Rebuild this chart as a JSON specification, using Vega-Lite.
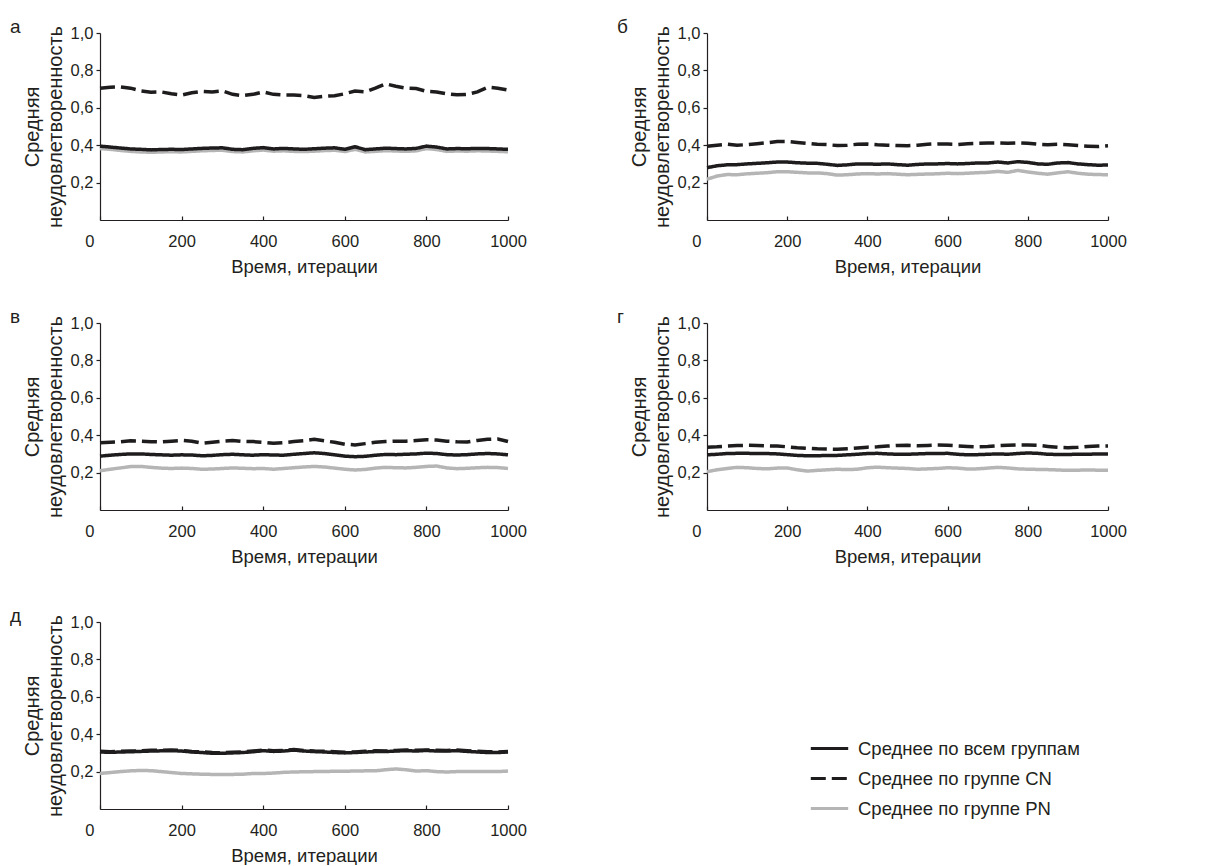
{
  "$schema": "https://vega.github.io/schema/vega-lite/v6.json",
  "background": "white",
  "padding": {"left": 10, "top": 18, "right": 0, "bottom": 0},
  "config": {
    "font": "Liberation Sans",
    "view": {"stroke": null},
    "axis": {
      "grid": false,
      "labelFont": "Liberation Sans",
      "labelFontSize": 16.5,
      "labelColor": "#231f20",
      "titleFont": "Liberation Sans",
      "titleFontSize": 18.5,
      "titleFontWeight": "normal",
      "titleColor": "#231f20",
      "domainColor": "#231f20",
      "domainWidth": 1.2,
      "tickColor": "#231f20",
      "tickWidth": 1.2
    },
    "title": {"font": "Liberation Sans", "fontSize": 19, "fontWeight": "normal", "color": "#231f20", "anchor": "start", "frame": "bounds", "offset": -12, "dx": -12},
    "legend": {
      "orient": "none",
      "legendX": 709,
      "legendY": 695,
      "title": null,
      "symbolType": "stroke",
      "symbolSize": 1400,
      "symbolStrokeWidth": 3,
      "labelFont": "Liberation Sans",
      "labelFontSize": 18.5,
      "labelColor": "#231f20",
      "labelOffset": 8,
      "labelLimit": 0,
      "rowPadding": -11
    }
  },
  "data": {"values": [
    {"p":"а","x":0,"all":0.395,"cn":0.705,"pn":0.382},
    {"p":"а","x":25,"all":0.39,"cn":0.71,"pn":0.378},
    {"p":"а","x":50,"all":0.385,"cn":0.712,"pn":0.372},
    {"p":"а","x":75,"all":0.38,"cn":0.705,"pn":0.367},
    {"p":"а","x":100,"all":0.378,"cn":0.69,"pn":0.364},
    {"p":"а","x":125,"all":0.375,"cn":0.683,"pn":0.362},
    {"p":"а","x":150,"all":0.377,"cn":0.685,"pn":0.364},
    {"p":"а","x":175,"all":0.378,"cn":0.675,"pn":0.365},
    {"p":"а","x":200,"all":0.377,"cn":0.668,"pn":0.364},
    {"p":"а","x":225,"all":0.38,"cn":0.68,"pn":0.367},
    {"p":"а","x":250,"all":0.383,"cn":0.688,"pn":0.37},
    {"p":"а","x":275,"all":0.385,"cn":0.685,"pn":0.372},
    {"p":"а","x":300,"all":0.386,"cn":0.69,"pn":0.373},
    {"p":"а","x":325,"all":0.378,"cn":0.672,"pn":0.366},
    {"p":"а","x":350,"all":0.376,"cn":0.665,"pn":0.364},
    {"p":"а","x":375,"all":0.383,"cn":0.672,"pn":0.37},
    {"p":"а","x":400,"all":0.387,"cn":0.685,"pn":0.374},
    {"p":"а","x":425,"all":0.38,"cn":0.672,"pn":0.368},
    {"p":"а","x":450,"all":0.383,"cn":0.668,"pn":0.37},
    {"p":"а","x":475,"all":0.38,"cn":0.668,"pn":0.367},
    {"p":"а","x":500,"all":0.378,"cn":0.665,"pn":0.366},
    {"p":"а","x":525,"all":0.381,"cn":0.655,"pn":0.368},
    {"p":"а","x":550,"all":0.384,"cn":0.662,"pn":0.371},
    {"p":"а","x":575,"all":0.386,"cn":0.665,"pn":0.373},
    {"p":"а","x":600,"all":0.378,"cn":0.675,"pn":0.366},
    {"p":"а","x":625,"all":0.392,"cn":0.69,"pn":0.378},
    {"p":"а","x":650,"all":0.376,"cn":0.685,"pn":0.364},
    {"p":"а","x":675,"all":0.38,"cn":0.705,"pn":0.367},
    {"p":"а","x":700,"all":0.384,"cn":0.728,"pn":0.371},
    {"p":"а","x":725,"all":0.382,"cn":0.715,"pn":0.369},
    {"p":"а","x":750,"all":0.38,"cn":0.705,"pn":0.367},
    {"p":"а","x":775,"all":0.383,"cn":0.703,"pn":0.37},
    {"p":"а","x":800,"all":0.395,"cn":0.688,"pn":0.382},
    {"p":"а","x":825,"all":0.39,"cn":0.685,"pn":0.377},
    {"p":"а","x":850,"all":0.38,"cn":0.675,"pn":0.367},
    {"p":"а","x":875,"all":0.382,"cn":0.67,"pn":0.369},
    {"p":"а","x":900,"all":0.381,"cn":0.672,"pn":0.368},
    {"p":"а","x":925,"all":0.383,"cn":0.685,"pn":0.37},
    {"p":"а","x":950,"all":0.382,"cn":0.71,"pn":0.369},
    {"p":"а","x":975,"all":0.38,"cn":0.705,"pn":0.367},
    {"p":"а","x":1000,"all":0.378,"cn":0.695,"pn":0.365},

    {"p":"б","x":0,"all":0.28,"cn":0.395,"pn":0.218},
    {"p":"б","x":25,"all":0.29,"cn":0.4,"pn":0.235},
    {"p":"б","x":50,"all":0.295,"cn":0.405,"pn":0.243},
    {"p":"б","x":75,"all":0.296,"cn":0.4,"pn":0.242},
    {"p":"б","x":100,"all":0.3,"cn":0.403,"pn":0.247},
    {"p":"б","x":125,"all":0.303,"cn":0.408,"pn":0.25},
    {"p":"б","x":150,"all":0.306,"cn":0.413,"pn":0.253},
    {"p":"б","x":175,"all":0.31,"cn":0.42,"pn":0.258},
    {"p":"б","x":200,"all":0.31,"cn":0.42,"pn":0.258},
    {"p":"б","x":225,"all":0.306,"cn":0.415,"pn":0.255},
    {"p":"б","x":250,"all":0.304,"cn":0.41,"pn":0.252},
    {"p":"б","x":275,"all":0.303,"cn":0.405,"pn":0.252},
    {"p":"б","x":300,"all":0.298,"cn":0.403,"pn":0.248},
    {"p":"б","x":325,"all":0.292,"cn":0.398,"pn":0.24},
    {"p":"б","x":350,"all":0.295,"cn":0.4,"pn":0.242},
    {"p":"б","x":375,"all":0.3,"cn":0.405,"pn":0.246},
    {"p":"б","x":400,"all":0.3,"cn":0.406,"pn":0.248},
    {"p":"б","x":425,"all":0.298,"cn":0.402,"pn":0.246},
    {"p":"б","x":450,"all":0.3,"cn":0.4,"pn":0.248},
    {"p":"б","x":475,"all":0.296,"cn":0.398,"pn":0.245},
    {"p":"б","x":500,"all":0.293,"cn":0.397,"pn":0.242},
    {"p":"б","x":525,"all":0.297,"cn":0.4,"pn":0.244},
    {"p":"б","x":550,"all":0.3,"cn":0.405,"pn":0.246},
    {"p":"б","x":575,"all":0.3,"cn":0.407,"pn":0.247},
    {"p":"б","x":600,"all":0.302,"cn":0.406,"pn":0.25},
    {"p":"б","x":625,"all":0.3,"cn":0.404,"pn":0.248},
    {"p":"б","x":650,"all":0.302,"cn":0.408,"pn":0.25},
    {"p":"б","x":675,"all":0.305,"cn":0.41,"pn":0.253},
    {"p":"б","x":700,"all":0.305,"cn":0.412,"pn":0.255},
    {"p":"б","x":725,"all":0.31,"cn":0.412,"pn":0.26},
    {"p":"б","x":750,"all":0.305,"cn":0.41,"pn":0.255},
    {"p":"б","x":775,"all":0.312,"cn":0.412,"pn":0.265},
    {"p":"б","x":800,"all":0.308,"cn":0.41,"pn":0.257},
    {"p":"б","x":825,"all":0.3,"cn":0.405,"pn":0.25},
    {"p":"б","x":850,"all":0.298,"cn":0.403,"pn":0.245},
    {"p":"б","x":875,"all":0.305,"cn":0.405,"pn":0.252},
    {"p":"б","x":900,"all":0.307,"cn":0.402,"pn":0.258},
    {"p":"б","x":925,"all":0.3,"cn":0.398,"pn":0.25},
    {"p":"б","x":950,"all":0.296,"cn":0.395,"pn":0.245},
    {"p":"б","x":975,"all":0.293,"cn":0.393,"pn":0.243},
    {"p":"б","x":1000,"all":0.294,"cn":0.397,"pn":0.242},

    {"p":"в","x":0,"all":0.288,"cn":0.36,"pn":0.21},
    {"p":"в","x":25,"all":0.293,"cn":0.362,"pn":0.218},
    {"p":"в","x":50,"all":0.297,"cn":0.365,"pn":0.225},
    {"p":"в","x":75,"all":0.3,"cn":0.37,"pn":0.232},
    {"p":"в","x":100,"all":0.3,"cn":0.368,"pn":0.233},
    {"p":"в","x":125,"all":0.297,"cn":0.365,"pn":0.228},
    {"p":"в","x":150,"all":0.295,"cn":0.364,"pn":0.224},
    {"p":"в","x":175,"all":0.293,"cn":0.368,"pn":0.222},
    {"p":"в","x":200,"all":0.295,"cn":0.372,"pn":0.224},
    {"p":"в","x":225,"all":0.294,"cn":0.368,"pn":0.222},
    {"p":"в","x":250,"all":0.29,"cn":0.357,"pn":0.218},
    {"p":"в","x":275,"all":0.292,"cn":0.362,"pn":0.219},
    {"p":"в","x":300,"all":0.296,"cn":0.368,"pn":0.222},
    {"p":"в","x":325,"all":0.298,"cn":0.372,"pn":0.225},
    {"p":"в","x":350,"all":0.295,"cn":0.367,"pn":0.223},
    {"p":"в","x":375,"all":0.293,"cn":0.366,"pn":0.221},
    {"p":"в","x":400,"all":0.296,"cn":0.362,"pn":0.222},
    {"p":"в","x":425,"all":0.294,"cn":0.357,"pn":0.218},
    {"p":"в","x":450,"all":0.293,"cn":0.36,"pn":0.222},
    {"p":"в","x":475,"all":0.298,"cn":0.366,"pn":0.226},
    {"p":"в","x":500,"all":0.302,"cn":0.37,"pn":0.23},
    {"p":"в","x":525,"all":0.306,"cn":0.378,"pn":0.233},
    {"p":"в","x":550,"all":0.302,"cn":0.37,"pn":0.23},
    {"p":"в","x":575,"all":0.295,"cn":0.362,"pn":0.224},
    {"p":"в","x":600,"all":0.288,"cn":0.352,"pn":0.218},
    {"p":"в","x":625,"all":0.285,"cn":0.348,"pn":0.214},
    {"p":"в","x":650,"all":0.287,"cn":0.355,"pn":0.217},
    {"p":"в","x":675,"all":0.293,"cn":0.362,"pn":0.224},
    {"p":"в","x":700,"all":0.297,"cn":0.366,"pn":0.228},
    {"p":"в","x":725,"all":0.296,"cn":0.368,"pn":0.226},
    {"p":"в","x":750,"all":0.298,"cn":0.368,"pn":0.225},
    {"p":"в","x":775,"all":0.3,"cn":0.372,"pn":0.228},
    {"p":"в","x":800,"all":0.304,"cn":0.376,"pn":0.233},
    {"p":"в","x":825,"all":0.302,"cn":0.374,"pn":0.235},
    {"p":"в","x":850,"all":0.296,"cn":0.368,"pn":0.225},
    {"p":"в","x":875,"all":0.294,"cn":0.365,"pn":0.221},
    {"p":"в","x":900,"all":0.296,"cn":0.364,"pn":0.223},
    {"p":"в","x":925,"all":0.3,"cn":0.372,"pn":0.226},
    {"p":"в","x":950,"all":0.302,"cn":0.378,"pn":0.228},
    {"p":"в","x":975,"all":0.3,"cn":0.38,"pn":0.227},
    {"p":"в","x":1000,"all":0.295,"cn":0.366,"pn":0.222},

    {"p":"г","x":0,"all":0.295,"cn":0.336,"pn":0.205},
    {"p":"г","x":25,"all":0.298,"cn":0.338,"pn":0.215},
    {"p":"г","x":50,"all":0.302,"cn":0.342,"pn":0.222},
    {"p":"г","x":75,"all":0.303,"cn":0.345,"pn":0.228},
    {"p":"г","x":100,"all":0.303,"cn":0.346,"pn":0.226},
    {"p":"г","x":125,"all":0.302,"cn":0.345,"pn":0.222},
    {"p":"г","x":150,"all":0.302,"cn":0.343,"pn":0.22},
    {"p":"г","x":175,"all":0.3,"cn":0.342,"pn":0.224},
    {"p":"г","x":200,"all":0.296,"cn":0.338,"pn":0.225},
    {"p":"г","x":225,"all":0.292,"cn":0.333,"pn":0.215},
    {"p":"г","x":250,"all":0.29,"cn":0.33,"pn":0.208},
    {"p":"г","x":275,"all":0.29,"cn":0.327,"pn":0.212},
    {"p":"г","x":300,"all":0.292,"cn":0.326,"pn":0.215},
    {"p":"г","x":325,"all":0.292,"cn":0.325,"pn":0.218},
    {"p":"г","x":350,"all":0.295,"cn":0.328,"pn":0.216},
    {"p":"г","x":375,"all":0.298,"cn":0.332,"pn":0.218},
    {"p":"г","x":400,"all":0.302,"cn":0.336,"pn":0.226},
    {"p":"г","x":425,"all":0.303,"cn":0.338,"pn":0.229},
    {"p":"г","x":450,"all":0.3,"cn":0.342,"pn":0.226},
    {"p":"г","x":475,"all":0.298,"cn":0.345,"pn":0.224},
    {"p":"г","x":500,"all":0.298,"cn":0.346,"pn":0.222},
    {"p":"г","x":525,"all":0.3,"cn":0.344,"pn":0.218},
    {"p":"г","x":550,"all":0.302,"cn":0.345,"pn":0.22},
    {"p":"г","x":575,"all":0.302,"cn":0.347,"pn":0.222},
    {"p":"г","x":600,"all":0.303,"cn":0.346,"pn":0.226},
    {"p":"г","x":625,"all":0.298,"cn":0.343,"pn":0.224},
    {"p":"г","x":650,"all":0.295,"cn":0.34,"pn":0.219},
    {"p":"г","x":675,"all":0.296,"cn":0.338,"pn":0.22},
    {"p":"г","x":700,"all":0.298,"cn":0.34,"pn":0.224},
    {"p":"г","x":725,"all":0.3,"cn":0.344,"pn":0.228},
    {"p":"г","x":750,"all":0.298,"cn":0.346,"pn":0.225},
    {"p":"г","x":775,"all":0.302,"cn":0.348,"pn":0.22},
    {"p":"г","x":800,"all":0.305,"cn":0.348,"pn":0.218},
    {"p":"г","x":825,"all":0.303,"cn":0.346,"pn":0.217},
    {"p":"г","x":850,"all":0.298,"cn":0.34,"pn":0.216},
    {"p":"г","x":875,"all":0.297,"cn":0.335,"pn":0.214},
    {"p":"г","x":900,"all":0.297,"cn":0.333,"pn":0.212},
    {"p":"г","x":925,"all":0.298,"cn":0.335,"pn":0.213},
    {"p":"г","x":950,"all":0.298,"cn":0.34,"pn":0.214},
    {"p":"г","x":975,"all":0.3,"cn":0.342,"pn":0.213},
    {"p":"г","x":1000,"all":0.299,"cn":0.342,"pn":0.212},

    {"p":"д","x":0,"all":0.305,"cn":0.309,"pn":0.19},
    {"p":"д","x":25,"all":0.303,"cn":0.306,"pn":0.195},
    {"p":"д","x":50,"all":0.305,"cn":0.309,"pn":0.2},
    {"p":"д","x":75,"all":0.306,"cn":0.31,"pn":0.204},
    {"p":"д","x":100,"all":0.308,"cn":0.311,"pn":0.206},
    {"p":"д","x":125,"all":0.31,"cn":0.314,"pn":0.205},
    {"p":"д","x":150,"all":0.311,"cn":0.314,"pn":0.2},
    {"p":"д","x":175,"all":0.312,"cn":0.316,"pn":0.195},
    {"p":"д","x":200,"all":0.31,"cn":0.313,"pn":0.19},
    {"p":"д","x":225,"all":0.305,"cn":0.308,"pn":0.188},
    {"p":"д","x":250,"all":0.302,"cn":0.306,"pn":0.186},
    {"p":"д","x":275,"all":0.298,"cn":0.302,"pn":0.185},
    {"p":"д","x":300,"all":0.298,"cn":0.301,"pn":0.184},
    {"p":"д","x":325,"all":0.3,"cn":0.303,"pn":0.185},
    {"p":"д","x":350,"all":0.302,"cn":0.306,"pn":0.186},
    {"p":"д","x":375,"all":0.306,"cn":0.31,"pn":0.19},
    {"p":"д","x":400,"all":0.312,"cn":0.315,"pn":0.19},
    {"p":"д","x":425,"all":0.308,"cn":0.312,"pn":0.192},
    {"p":"д","x":450,"all":0.31,"cn":0.313,"pn":0.196},
    {"p":"д","x":475,"all":0.315,"cn":0.318,"pn":0.198},
    {"p":"д","x":500,"all":0.31,"cn":0.313,"pn":0.199},
    {"p":"д","x":525,"all":0.307,"cn":0.31,"pn":0.2},
    {"p":"д","x":550,"all":0.305,"cn":0.309,"pn":0.2},
    {"p":"д","x":575,"all":0.302,"cn":0.306,"pn":0.202},
    {"p":"д","x":600,"all":0.3,"cn":0.303,"pn":0.202},
    {"p":"д","x":625,"all":0.302,"cn":0.305,"pn":0.203},
    {"p":"д","x":650,"all":0.305,"cn":0.309,"pn":0.204},
    {"p":"д","x":675,"all":0.307,"cn":0.311,"pn":0.204},
    {"p":"д","x":700,"all":0.307,"cn":0.31,"pn":0.21},
    {"p":"д","x":725,"all":0.31,"cn":0.313,"pn":0.214},
    {"p":"д","x":750,"all":0.312,"cn":0.316,"pn":0.21},
    {"p":"д","x":775,"all":0.31,"cn":0.314,"pn":0.203},
    {"p":"д","x":800,"all":0.313,"cn":0.316,"pn":0.205},
    {"p":"д","x":825,"all":0.31,"cn":0.314,"pn":0.2},
    {"p":"д","x":850,"all":0.31,"cn":0.313,"pn":0.198},
    {"p":"д","x":875,"all":0.312,"cn":0.316,"pn":0.2},
    {"p":"д","x":900,"all":0.308,"cn":0.312,"pn":0.2},
    {"p":"д","x":925,"all":0.305,"cn":0.309,"pn":0.2},
    {"p":"д","x":950,"all":0.302,"cn":0.306,"pn":0.2},
    {"p":"д","x":975,"all":0.302,"cn":0.305,"pn":0.2},
    {"p":"д","x":1000,"all":0.305,"cn":0.308,"pn":0.203}
  ]},
  "spacing": 41,
  "vconcat": [
    {
      "spacing": 32,
      "vconcat": [
        {
          "spacing": 90,
          "hconcat": [
            {
              "width": 408, "height": 187,
              "title": {"text": "а"},
              "transform": [{"filter": "datum.p === 'а'"}, {"fold": ["pn", "all", "cn"], "as": ["s", "v"]}],
              "mark": {"type": "line", "strokeWidth": 3.5},
              "encoding": {
                "x": {"field": "x", "type": "quantitative", "scale": {"domain": [0, 1000], "nice": false}, "axis": {"title": "Время, итерации", "values": [0, 200, 400, 600, 800, 1000], "format": "d", "labelFlush": false, "tickSize": -4, "labelPadding": 17, "labelAlign": {"condition": {"test": "datum.value === 0", "value": "right"}, "value": "center"}, "labelOffset": {"condition": {"test": "datum.value === 0", "value": -6}, "value": 0}, "titlePadding": 8}},
                "y": {"field": "v", "type": "quantitative", "scale": {"domain": [0, 1], "nice": false}, "axis": {"title": ["Средняя", "неудовлетворенность"], "titleFontSize": 20, "titleLineHeight": 23, "values": [0.2, 0.4, 0.6, 0.8, 1], "labelExpr": "replace(format(datum.value, '.1f'), '.', ',')", "tickSize": 4, "labelPadding": 3, "titlePadding": 5}},
                "color": {"field": "s", "type": "nominal", "scale": {"domain": ["all", "cn", "pn"], "range": ["#1e1c1d", "#1e1c1d", "#b5b5b5"]}, "legend": {"labelExpr": "datum.label === 'all' ? 'Среднее по всем группам' : datum.label === 'cn' ? 'Среднее по группе CN' : 'Среднее по группе PN'"}},
                "strokeDash": {"field": "s", "type": "nominal", "scale": {"domain": ["all", "cn", "pn"], "range": [[1, 0], [15, 6], [1, 0]]}, "legend": {"labelExpr": "datum.label === 'all' ? 'Среднее по всем группам' : datum.label === 'cn' ? 'Среднее по группе CN' : 'Среднее по группе PN'"}}
              }
            },
            {
              "width": 401, "height": 187,
              "title": {"text": "б"},
              "transform": [{"filter": "datum.p === 'б'"}, {"fold": ["pn", "all", "cn"], "as": ["s", "v"]}],
              "mark": {"type": "line", "strokeWidth": 3.5},
              "encoding": {
                "x": {"field": "x", "type": "quantitative", "scale": {"domain": [0, 1000], "nice": false}, "axis": {"title": "Время, итерации", "values": [0, 200, 400, 600, 800, 1000], "format": "d", "labelFlush": false, "tickSize": -4, "labelPadding": 17, "labelAlign": {"condition": {"test": "datum.value === 0", "value": "right"}, "value": "center"}, "labelOffset": {"condition": {"test": "datum.value === 0", "value": -6}, "value": 0}, "titlePadding": 8}},
                "y": {"field": "v", "type": "quantitative", "scale": {"domain": [0, 1], "nice": false}, "axis": {"title": ["Средняя", "неудовлетворенность"], "titleFontSize": 20, "titleLineHeight": 23, "values": [0.2, 0.4, 0.6, 0.8, 1], "labelExpr": "replace(format(datum.value, '.1f'), '.', ',')", "tickSize": 4, "labelPadding": 3, "titlePadding": 5}},
                "color": {"field": "s", "type": "nominal", "scale": {"domain": ["all", "cn", "pn"], "range": ["#1e1c1d", "#1e1c1d", "#b5b5b5"]}},
                "strokeDash": {"field": "s", "type": "nominal", "scale": {"domain": ["all", "cn", "pn"], "range": [[1, 0], [15, 6], [1, 0]]}}
              }
            }
          ]
        },
        {
          "spacing": 90,
          "hconcat": [
            {
              "width": 408, "height": 187,
              "title": {"text": "в"},
              "transform": [{"filter": "datum.p === 'в'"}, {"fold": ["pn", "all", "cn"], "as": ["s", "v"]}],
              "mark": {"type": "line", "strokeWidth": 3.5},
              "encoding": {
                "x": {"field": "x", "type": "quantitative", "scale": {"domain": [0, 1000], "nice": false}, "axis": {"title": "Время, итерации", "values": [0, 200, 400, 600, 800, 1000], "format": "d", "labelFlush": false, "tickSize": -4, "labelPadding": 17, "labelAlign": {"condition": {"test": "datum.value === 0", "value": "right"}, "value": "center"}, "labelOffset": {"condition": {"test": "datum.value === 0", "value": -6}, "value": 0}, "titlePadding": 8}},
                "y": {"field": "v", "type": "quantitative", "scale": {"domain": [0, 1], "nice": false}, "axis": {"title": ["Средняя", "неудовлетворенность"], "titleFontSize": 20, "titleLineHeight": 23, "values": [0.2, 0.4, 0.6, 0.8, 1], "labelExpr": "replace(format(datum.value, '.1f'), '.', ',')", "tickSize": 4, "labelPadding": 3, "titlePadding": 5}},
                "color": {"field": "s", "type": "nominal", "scale": {"domain": ["all", "cn", "pn"], "range": ["#1e1c1d", "#1e1c1d", "#b5b5b5"]}},
                "strokeDash": {"field": "s", "type": "nominal", "scale": {"domain": ["all", "cn", "pn"], "range": [[1, 0], [15, 6], [1, 0]]}}
              }
            },
            {
              "width": 401, "height": 187,
              "title": {"text": "г"},
              "transform": [{"filter": "datum.p === 'г'"}, {"fold": ["pn", "all", "cn"], "as": ["s", "v"]}],
              "mark": {"type": "line", "strokeWidth": 3.5},
              "encoding": {
                "x": {"field": "x", "type": "quantitative", "scale": {"domain": [0, 1000], "nice": false}, "axis": {"title": "Время, итерации", "values": [0, 200, 400, 600, 800, 1000], "format": "d", "labelFlush": false, "tickSize": -4, "labelPadding": 17, "labelAlign": {"condition": {"test": "datum.value === 0", "value": "right"}, "value": "center"}, "labelOffset": {"condition": {"test": "datum.value === 0", "value": -6}, "value": 0}, "titlePadding": 8}},
                "y": {"field": "v", "type": "quantitative", "scale": {"domain": [0, 1], "nice": false}, "axis": {"title": ["Средняя", "неудовлетворенность"], "titleFontSize": 20, "titleLineHeight": 23, "values": [0.2, 0.4, 0.6, 0.8, 1], "labelExpr": "replace(format(datum.value, '.1f'), '.', ',')", "tickSize": 4, "labelPadding": 3, "titlePadding": 5}},
                "color": {"field": "s", "type": "nominal", "scale": {"domain": ["all", "cn", "pn"], "range": ["#1e1c1d", "#1e1c1d", "#b5b5b5"]}},
                "strokeDash": {"field": "s", "type": "nominal", "scale": {"domain": ["all", "cn", "pn"], "range": [[1, 0], [15, 6], [1, 0]]}}
              }
            }
          ]
        }
      ]
    },
    {
      "width": 408, "height": 187,
      "title": {"text": "д"},
      "transform": [{"filter": "datum.p === 'д'"}, {"fold": ["pn", "all", "cn"], "as": ["s", "v"]}],
      "mark": {"type": "line", "strokeWidth": 3.5},
      "encoding": {
        "x": {"field": "x", "type": "quantitative", "scale": {"domain": [0, 1000], "nice": false}, "axis": {"title": "Время, итерации", "values": [0, 200, 400, 600, 800, 1000], "format": "d", "labelFlush": false, "tickSize": -4, "labelPadding": 17, "labelAlign": {"condition": {"test": "datum.value === 0", "value": "right"}, "value": "center"}, "labelOffset": {"condition": {"test": "datum.value === 0", "value": -6}, "value": 0}, "titlePadding": 8}},
        "y": {"field": "v", "type": "quantitative", "scale": {"domain": [0, 1], "nice": false}, "axis": {"title": ["Средняя", "неудовлетворенность"], "titleFontSize": 20, "titleLineHeight": 23, "values": [0.2, 0.4, 0.6, 0.8, 1], "labelExpr": "replace(format(datum.value, '.1f'), '.', ',')", "tickSize": 4, "labelPadding": 3, "titlePadding": 5}},
        "color": {"field": "s", "type": "nominal", "scale": {"domain": ["all", "cn", "pn"], "range": ["#1e1c1d", "#1e1c1d", "#b5b5b5"]}},
        "strokeDash": {"field": "s", "type": "nominal", "scale": {"domain": ["all", "cn", "pn"], "range": [[1, 0], [15, 6], [1, 0]]}}
      }
    }
  ]
}
